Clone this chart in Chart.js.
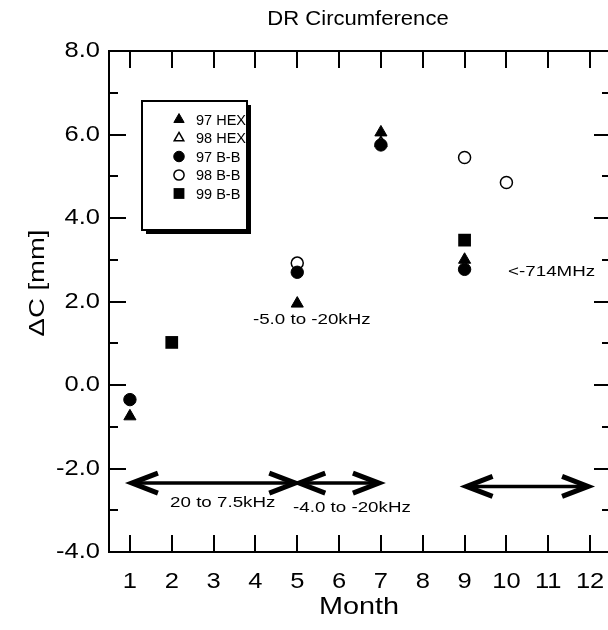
<!DOCTYPE html>
<html><head><meta charset="utf-8">
<script src="https://cdn.jsdelivr.net/npm/chart.js@4/dist/chart.umd.min.js"></script>
<style>html,body{margin:0;padding:0;background:#fff;overflow:hidden}
#wrap{position:absolute;left:0;top:0;width:630px;height:630px}</style>
</head><body><div id="wrap"><canvas id="c" width="630" height="630"></canvas></div>
<script>
const months = [1,2,3,4,5,6,7,8,9,10,11,12];
const xTickLabels = ['1','2','3','4','5','6','7','8','9','10','11','12'];
const yTickValues = [-4,-3,-2,-1,0,1,2,3,4,5,6,7,8];
const yTickLabels = ['-4.0','','-2.0','','0.0','','2.0','','4.0','','6.0','','8.0'];

const hex97Month = [1,5,7,9];      const hex97Val = [-0.75,1.95,6.05,3.0];
const hex98Month = [7];            const hex98Val = [5.8];
const bb97Month  = [1,5,7,9];      const bb97Val  = [-0.35,2.7,5.75,2.77];
const bb98Month  = [5,9,10];       const bb98Val  = [2.92,5.45,4.85];
const bb99Month  = [2,9];          const bb99Val  = [1.02,3.47];

const arrowFrom = [1,5,9];
const arrowTo   = [5,7,12];
const arrowY    = [-2.35,-2.35,-2.43];

const noteText = ['-5.0 to -20kHz','20 to 7.5kHz','-4.0 to -20kHz','<-714MHz'];
const noteX    = [3.94,1.96,4.9,10.04];
const noteY    = [1.56,-2.83,-2.95,2.72];

const seriesNames = ['97 HEX','98 HEX','97 B-B','98 B-B','99 B-B'];

const FONT = '"Liberation Sans", Arial, Helvetica, sans-serif';
const pts = (xs, ys) => xs.map((x,i)=>({x:x, y:ys[i]}));

const styles = [
  {pointStyle:'triangle', radius:7,   bg:'#000', border:'#000', bw:1},
  {pointStyle:'triangle', radius:6.5, bg:'#fff', border:'#000', bw:1.5},
  {pointStyle:'circle',   radius:6.2, bg:'#000', border:'#000', bw:1},
  {pointStyle:'circle',   radius:6,   bg:'#fff', border:'#000', bw:1.5},
  {pointStyle:'rect',     radius:9,   bg:'#000', border:'#000', bw:0}
];
const seriesData = [pts(hex97Month,hex97Val), pts(hex98Month,hex98Val), pts(bb97Month,bb97Val), pts(bb98Month,bb98Val), pts(bb99Month,bb99Val)];
const drawOrder = [1,3,0,2,4];

const datasets = seriesNames.map((n,i)=>({
  label:n, data:seriesData[i], showLine:false, order:drawOrder[i],
  pointStyle:styles[i].pointStyle, pointRadius:styles[i].radius, pointHoverRadius:styles[i].radius,
  backgroundColor:styles[i].bg, borderColor:styles[i].border, pointBorderWidth:styles[i].bw, borderWidth:styles[i].bw
}));

function txt(ctx, t, x, y, size, align, sx, rot){
  ctx.save();
  ctx.translate(x, y);
  if (rot) ctx.rotate(rot);
  ctx.scale(sx, 1);
  ctx.font = size + 'px ' + FONT;
  ctx.fillStyle = '#000';
  ctx.textAlign = align; ctx.textBaseline = 'middle';
  ctx.fillText(t, 0, 0);
  ctx.restore();
}

const decor = {
  id:'decor',
  afterDraw(chart){
    const ctx = chart.ctx, a = chart.chartArea, xs = chart.scales.x, ys = chart.scales.y;
    ctx.save();
    ctx.strokeStyle='#000'; ctx.lineWidth=2;
    ctx.strokeRect(a.left, a.top, a.right-a.left, a.bottom-a.top);
    ctx.beginPath();
    months.forEach(m=>{
      const px = Math.round(xs.getPixelForValue(m));
      ctx.moveTo(px, a.bottom); ctx.lineTo(px, a.bottom-17);
      ctx.moveTo(px, a.top); ctx.lineTo(px, a.top+17);
    });
    yTickValues.forEach(v=>{
      const py = Math.round(ys.getPixelForValue(v));
      const L = (v % 2 === 0) ? 17 : 9;
      ctx.moveTo(a.left, py); ctx.lineTo(a.left+L, py);
      ctx.moveTo(a.right, py); ctx.lineTo(a.right-L, py);
    });
    ctx.stroke();

    // tick labels
    months.forEach((m,i)=> txt(ctx, xTickLabels[i], xs.getPixelForValue(m), 582, 22, 'center', 1.16));
    yTickValues.forEach((v,i)=>{ if (yTickLabels[i]) txt(ctx, yTickLabels[i], a.left-9, ys.getPixelForValue(v), 22, 'right', 1.16); });

    // arrows
    ctx.lineCap='butt'; ctx.lineJoin='miter'; ctx.strokeStyle='#000';
    arrowFrom.forEach((f,i)=>{
      const x1 = xs.getPixelForValue(f), x2 = xs.getPixelForValue(arrowTo[i]);
      const y = ys.getPixelForValue(arrowY[i]);
      ctx.lineWidth = 3.5;
      ctx.beginPath(); ctx.moveTo(x1+3,y); ctx.lineTo(x2-3,y); ctx.stroke();
      ctx.lineWidth = 5;
      ctx.beginPath();
      ctx.moveTo(x1+28,y-10); ctx.lineTo(x1+2,y); ctx.lineTo(x1+28,y+10);
      ctx.moveTo(x2-28,y-10); ctx.lineTo(x2-2,y); ctx.lineTo(x2-28,y+10);
      ctx.stroke();
    });

    // notes
    noteText.forEach((t,i)=> txt(ctx, t, xs.getPixelForValue(noteX[i]), ys.getPixelForValue(noteY[i]), 15, 'left', 1.25));

    // legend
    const bx=142, by=101, bw=105, bh=129;
    ctx.fillStyle='#000'; ctx.fillRect(bx+4, by+4, bw, bh);
    ctx.fillStyle='#fff'; ctx.fillRect(bx, by, bw, bh);
    ctx.lineWidth=2; ctx.strokeStyle='#000'; ctx.strokeRect(bx, by, bw, bh);
    seriesNames.forEach((n,i)=>{
      const y = 119.5 + i*18.5;
      const s = styles[i];
      ctx.fillStyle = s.bg; ctx.strokeStyle = s.border; ctx.lineWidth = s.bw;
      Chart.helpers.drawPoint(ctx, {pointStyle:s.pointStyle, radius:s.radius*0.85, rotation:0, borderWidth:s.bw}, 179, y);
      txt(ctx, n, 196, y+1, 14.5, 'left', 1.0);
    });

    // titles
    txt(ctx, 'DR Circumference', 358, 19, 21, 'center', 1.05);
    txt(ctx, 'Month', (a.left+a.right)/2 - 1, 607, 24, 'center', 1.2);
    txt(ctx, '\u0394C [mm]', 38, 283, 22, 'center', 1.25, -Math.PI/2);
    ctx.restore();
  }
};

new Chart(document.getElementById('c'), {
  type:'scatter',
  data:{datasets:datasets},
  options:{
    responsive:false, animation:false, devicePixelRatio:1,
    layout:{padding:{top:51, right:19, left:0, bottom:0}},
    plugins:{legend:{display:false}, tooltip:{enabled:false}, title:{display:false}},
    scales:{
      x:{type:'linear', min:0.5, max:12.5,
        afterBuildTicks:(s)=>{ s.ticks = months.map(v=>({value:v})); },
        afterFit:(s)=>{ s.height = 78; },
        grid:{display:false, drawTicks:false}, border:{display:false},
        ticks:{display:false, autoSkip:false}
      },
      y:{type:'linear', min:-4, max:8,
        afterBuildTicks:(s)=>{ s.ticks = yTickValues.map(v=>({value:v})); },
        afterFit:(s)=>{ s.width = 109; },
        grid:{display:false, drawTicks:false}, border:{display:false},
        ticks:{display:false, autoSkip:false}
      }
    }
  },
  plugins:[decor]
});
</script></body></html>
